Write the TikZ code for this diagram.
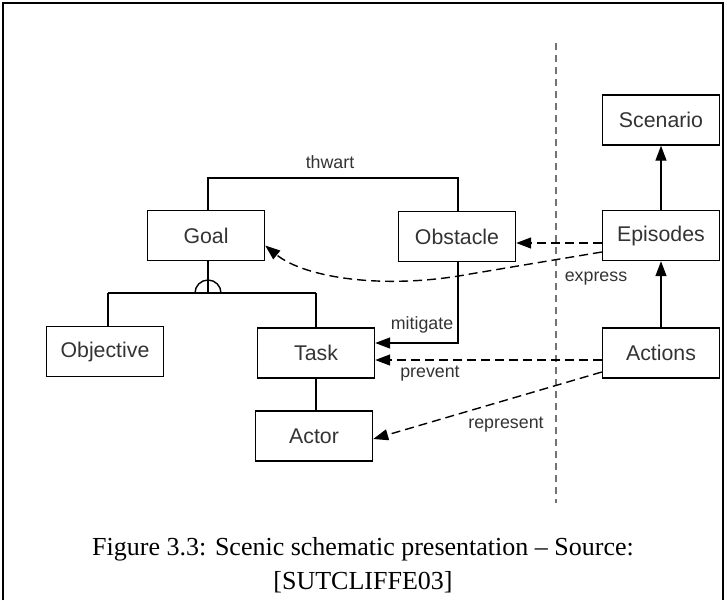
\documentclass[tikz,border=0pt]{standalone}
\usepackage{fontspec}
\setmainfont{Liberation Serif}
\newfontfamily\labelfont{Liberation Sans}
\usetikzlibrary{arrows.meta}
\begin{document}
\begin{tikzpicture}[x=1pt,y=-1pt,
  box/.style={draw, line width=1.4pt, minimum width=117pt, minimum height=50pt,
    inner sep=0pt, font=\labelfont\fontsize{21.3}{25}\selectfont, text=black!80},
  lbl/.style={font=\labelfont\fontsize{17.8}{21}\selectfont, text=black!80, inner sep=0pt},
  conn/.style={line width=1.4pt},
  tip/.style={-{Triangle[length=15pt,width=11pt]}},
  dsh/.style={dash pattern=on 9pt off 5pt}
]
\useasboundingbox (0,0) rectangle (727,600);
% frame
\draw[line width=2pt] (3,600) -- (3,3) -- (723,3) -- (723,600);

% separator between the goal model and the scenario side
\coordinate (sepTop) at (556,43);
\coordinate (sepBot) at (556,503);
\draw[black!55, line width=1.8pt, dash pattern=on 7pt off 5pt] (sepTop) -- (sepBot);

% boxes
\node[box] (goal)      at (206,235.5) {Goal};
\node[box] (obstacle)  at (457,236.5) {Obstacle};
\node[box] (objective) at (105,351.5) {Objective};
\node[box] (task)      at (316,353)   {Task};
\node[box] (actor)     at (314,436)   {Actor};
\node[box] (scenario)  at (661,120)   {Scenario};
\node[box] (episodes)  at (661,235.5) {Episodes};
\node[box] (actions)   at (661,353)   {Actions};

% thwart link
\coordinate (thL) at (208,178);
\coordinate (thR) at (458,178);
\draw[conn] ([xshift=2pt]goal.north) -- (thL) -- (thR) -- ([xshift=1pt]obstacle.north);
\node[lbl] (thwart) at (330,162) {thwart};

% goal refinement with AND symbol
\coordinate (jn)  at (208,293);
\coordinate (jnL) at (108,293);
\coordinate (jnR) at (316,293);
\draw[conn] ([xshift=2pt]goal.south) -- (jn);
\draw[conn] (jnL) -- (jnR);
\draw[conn] ([xshift=-13pt]jn) arc[start angle=180, end angle=0, radius=13pt];
\draw[conn] (jnL) -- (jnL |- objective.north);
\draw[conn] (jnR) -- (task.north);
\draw[conn] (task.south) -- (task.south |- actor.north);

% mitigate
\draw[conn, tip] ([xshift=1pt]obstacle.south) |- ([yshift=10pt]task.east);
\node[lbl] (mitigate) at (422,325) {mitigate};

% scenario side
\draw[conn, tip] (episodes.north) -- (scenario.south);
\draw[conn, tip] (actions.north) -- (episodes.south);

% dashed links
\draw[conn, dsh, tip] ([yshift=-7.5pt]episodes.west) -- ([yshift=-7.5pt]episodes.west -| obstacle.east);
\coordinate (exA) at (470,274);
\draw[conn, dsh, tip] ([yshift=-16.5pt]episodes.west) -- (exA)
  .. controls (385,290) and (305,278) .. ([yshift=-10pt]goal.east);
\node[lbl] (express) at (596,279) {express};

\draw[conn, dsh, tip] ([yshift=-7pt]actions.west) -- ([yshift=-7pt]task.east);
\node[lbl] (prevent) at (430,374) {prevent};

\draw[conn, dsh, tip] ([yshift=-19pt]actions.west) -- ([yshift=-3pt]actor.east);
\node[lbl] (represent) at (506,425) {represent};

% caption
\node[anchor=base, inner sep=0pt, font=\fontsize{26}{30}\selectfont] (cap1) at (363,555)
  {Figure 3.3: Scenic schematic presentation -- Source:};
\node[anchor=base, inner sep=0pt, font=\fontsize{26}{30}\selectfont] (cap2) at (363,589)
  {[SUTCLIFFE03]};
\end{tikzpicture}
\end{document}
